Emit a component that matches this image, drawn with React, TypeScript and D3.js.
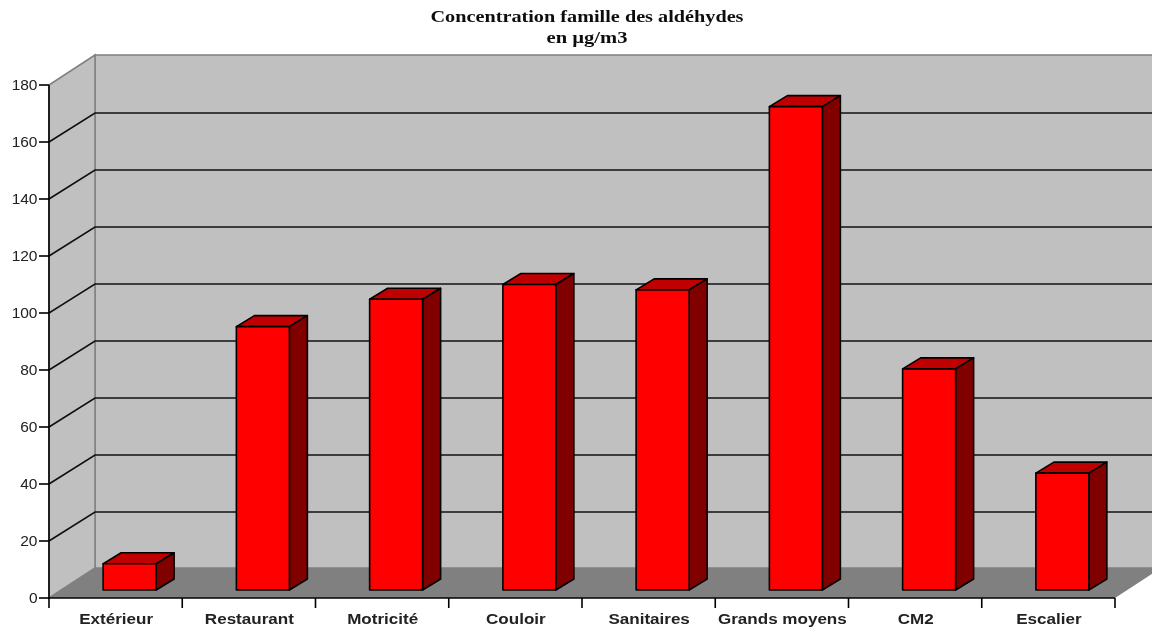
import React from "react";
import * as d3 from "d3";

const categories = ["Extérieur", "Restaurant", "Motricité", "Couloir", "Sanitaires", "Grands moyens", "CM2", "Escalier"];
const values = [9.2, 92.4, 102, 107.2, 105.3, 169.6, 77.6, 41];
const yTicks = [0, 20, 40, 60, 80, 100, 120, 140, 160, 180];
const titleLines = ["Concentration famille des aldéhydes", "en µg/m3"];
const titleWidths = [313, 81];

const W = 1152, H = 628;
const x0 = 49, x1 = 1115, y0 = 598, yTop = 85;
const depthX = 46, depthY = 30, gridDepthY = 29;
const barOffsetX = 14, barOffsetY = 8;
const barDepthX = 18, barDepthY = 11;
const barWidth = 53;

export default function App() {
  const y = d3.scaleLinear().domain([0, 180]).range([y0, yTop]);
  const x = d3.scaleBand<string>().domain(categories).range([x0, x1]);
  const band = x.bandwidth();
  const sans = "'Liberation Sans', Arial, sans-serif";
  const serif = "'Liberation Serif', 'Times New Roman', serif";
  const baseY = y0 - barOffsetY;
  const h = (v: number) => y0 - y(v);
  return (
    <svg width={W} height={H} style={{ position: "absolute", left: 0, top: 0, display: "block" }}>
      <defs>
        <filter id="soft" x="0" y="0" width="100%" height="100%">
          <feGaussianBlur stdDeviation="0.4" />
        </filter>
      </defs>
      <rect width={W} height={H} fill="#fff" />
      <g filter="url(#soft)">
        {/* back wall */}
        <rect x={x0 + depthX} y={y(180) - depthY} width={W} height={y0 - yTop} fill="#c0c0c0" stroke="#808080" strokeWidth={1.5} />
        {/* left wall */}
        <polygon points={`${x0},${y0} ${x0 + depthX},${y0 - depthY} ${x0 + depthX},${yTop - depthY} ${x0},${yTop}`} fill="#c0c0c0" stroke="#808080" strokeWidth={1.5} />
        {/* floor */}
        <polygon points={`${x0},${y0} ${x0 + depthX},${y0 - depthY} ${x1 + depthX},${y0 - depthY} ${x1},${y0}`} fill="#808080" />
        {/* grid */}
        {yTicks.filter((t) => t > 0 && t < 180).map((t) => (
          <path key={t} d={`M${x0},${y(t)}L${x0 + depthX},${y(t) - gridDepthY}H${W}`} fill="none" stroke="#111" strokeWidth={1.6} />
        ))}
        {/* bars */}
        {categories.map((c, i) => {
          const left = (x(c) as number) + (band - barWidth) / 2 + barOffsetX;
          const right = left + barWidth;
          const top = baseY - h(values[i]);
          return (
            <g key={c} stroke="#000" strokeWidth={1.6} strokeLinejoin="round">
              <polygon points={`${left},${top} ${left + barDepthX},${top - barDepthY} ${right + barDepthX},${top - barDepthY} ${right},${top}`} fill="#c00000" />
              <polygon points={`${right},${top} ${right + barDepthX},${top - barDepthY} ${right + barDepthX},${baseY - barDepthY} ${right},${baseY}`} fill="#800000" />
              <rect x={left} y={top} width={barWidth} height={baseY - top} fill="#ff0000" />
            </g>
          );
        })}
        {/* axes */}
        <line x1={x0} x2={x0} y1={yTop} y2={y0} stroke="#000" strokeWidth={1.6} />
        <line x1={x0} x2={x1} y1={y0} y2={y0} stroke="#000" strokeWidth={1.6} />
        {yTicks.map((t) => (
          <g key={t}>
            <line x1={x0 - 10} x2={x0} y1={y(t)} y2={y(t)} stroke="#000" strokeWidth={1.6} />
            <text x={37.5} y={y(t) + 5} textAnchor="end" fontFamily={sans} fontSize={15.5} fill="#222">{t}</text>
          </g>
        ))}
        {categories.map((c) => (
          <line key={c} x1={x(c)} x2={x(c)} y1={y0} y2={y0 + 10} stroke="#000" strokeWidth={1.6} />
        ))}
        <line x1={x1} x2={x1} y1={y0} y2={y0 + 10} stroke="#000" strokeWidth={1.6} />
        {categories.map((c) => {
          const cx = (x(c) as number) + band / 2 + 0.5;
          return (
            <text key={c} transform={`translate(${cx},624) scale(1.1,1)`} textAnchor="middle" fontFamily={sans} fontWeight="bold" fontSize={15.5} fill="#222">{c}</text>
          );
        })}
        {titleLines.map((l, i) => (
          <text key={l} x={587} y={22 + i * 21} textAnchor="middle" textLength={titleWidths[i]} lengthAdjust="spacingAndGlyphs" fontFamily={serif} fontWeight="bold" fontSize={17} fill="#111">{l}</text>
        ))}
      </g>
    </svg>
  );
}
